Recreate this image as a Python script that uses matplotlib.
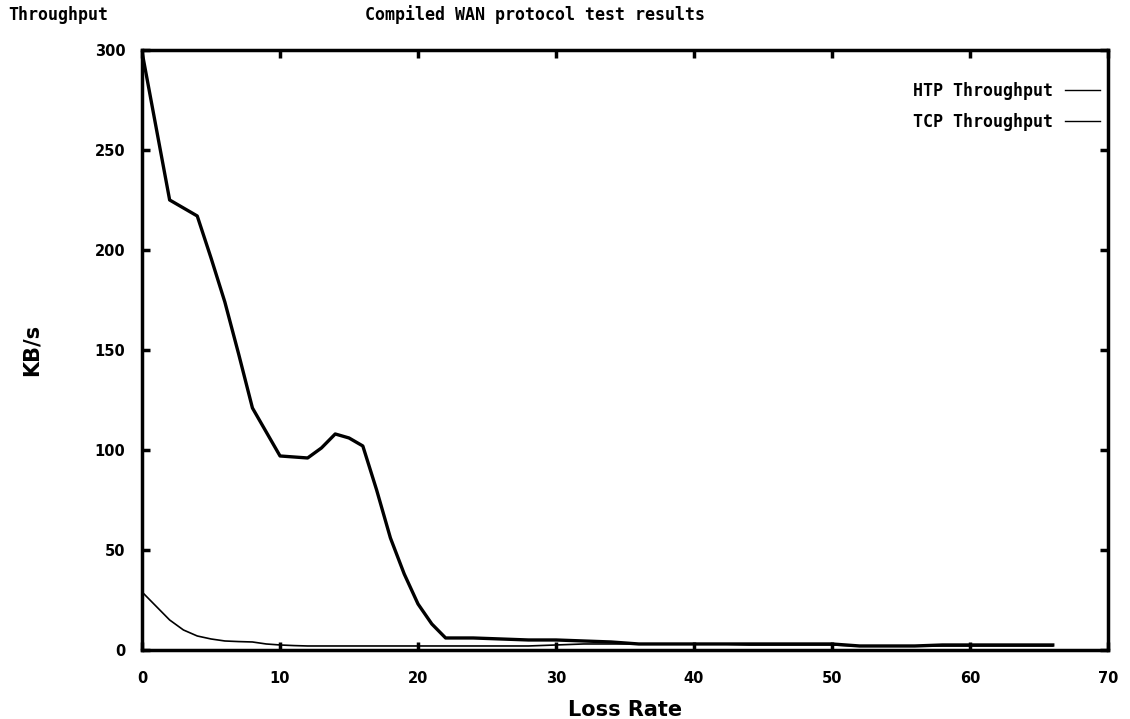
import numpy as np
import matplotlib
matplotlib.use('Agg')
from matplotlib import pyplot as plt

# loss rate (%): every 1 up to 22, then every 2
loss = [0, 1, 2, 3, 4, 5, 6, 7, 8, 9, 10, 11, 12, 13, 14, 15, 16, 17, 18, 19, 20, 21, 22,
        24, 26, 28, 30, 32, 34, 36, 38, 40, 42, 44, 46, 48, 50, 52, 54, 56, 58, 60,
        62, 64, 66]
htp = [299, 262, 225, 221, 217, 196, 174, 148, 121, 109, 97, 96.5, 96, 101, 108, 106, 102,
       80, 56, 38, 23, 13, 6,
       6, 5.5, 5, 5, 4.5, 4, 3, 3, 3, 3, 3, 3, 3, 3, 2, 2, 2, 2.5, 2.5,
       2.5, 2.5, 2.5]
tcp = [29, 22, 15, 10, 7, 5.5, 4.5, 4.2, 4, 3, 2.5, 2.2, 2, 2, 2, 2, 2, 2, 2, 2, 2, 2, 2,
       2, 2, 2, 2.5, 3, 3, 3, 3, 3, 3, 2.5, 2.5, 2.5, 2.5, 2, 2, 2, 2, 2,
       2, 2, 2]

xticks = [0, 10, 20, 30, 40, 50, 60, 70]
yticks = [0, 50, 100, 150, 200, 250, 300]

fig = plt.figure(figsize=(11.3, 7.19), dpi=100)
ax = fig.add_axes([0.1257, 0.096, 0.8548, 0.8345])

ax.plot(loss, htp, color='black', lw=2.4, label='HTP Throughput')
ax.plot(loss, tcp, color='black', lw=1.2, label='TCP Throughput')

ax.set_xlim(0, 70)
ax.set_ylim(0, 300)
ax.set_xticks(xticks)
ax.set_yticks(yticks)
for s in ax.spines.values():
    s.set_linewidth(2.5)
ax.tick_params(direction='in', length=6, width=2.5, top=True, right=True,
               labelsize=10.5)
ax.tick_params(axis='x', pad=15)
ax.tick_params(axis='y', pad=12)
for lab in ax.get_xticklabels() + ax.get_yticklabels():
    lab.set_fontweight('bold')

ax.set_xlabel('Loss Rate', fontsize=15, fontweight='bold', labelpad=10)
ax.set_ylabel('KB/s', fontsize=15, fontweight='bold', labelpad=38)

mono = {'family': 'DejaVu Sans Mono', 'weight': 'bold', 'size': 12}
leg = ax.legend(loc='upper right', frameon=False, markerfirst=False,
                handlelength=2.1, handletextpad=0.7, labelspacing=0.8,
                borderaxespad=0, borderpad=0,
                bbox_to_anchor=(0.9917, 0.947), prop=mono)
for h in leg.get_lines():
    h.set_linewidth(1.0)

fig.text(535 / 1130, 1 - 15 / 719, 'Compiled WAN protocol test results',
         ha='center', va='center', **mono)
fig.text(8 / 1130, 1 - 15 / 719, 'Throughput', ha='left', va='center', **mono)

fig.savefig('out.png', dpi=100)
